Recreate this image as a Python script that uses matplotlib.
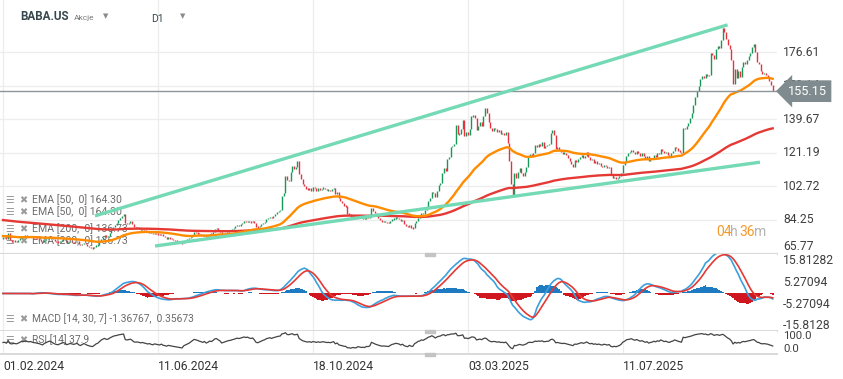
import numpy as np
import pandas as pd
import matplotlib
matplotlib.use('Agg')
import matplotlib.pyplot as plt
from matplotlib.patches import Rectangle
from matplotlib.transforms import blended_transform_factory as blend

plt.rcParams['font.family'] = ['Roboto', 'DejaVu Sans']

# BABA.US daily closes (Feb 2024 - Nov 2025)
c_2024_02 = [74.2, 74.5, 73.4, 76.9, 72.9, 72.0, 72.7, 72.5, 72.2, 73.1, 74.3, 75.2, 75.0, 75.7, 75.4, 74.8, 75.3, 74.6, 74.1, 74.0]
c_2024_03 = [73.5, 73.2, 72.5, 71.9, 73.0, 73.7, 74.4, 75.1, 74.6, 73.6, 72.7, 72.1, 71.8, 72.4, 72.9, 73.4, 73.0, 71.5, 71.9, 72.4]
c_2024_04 = [72.0, 71.6, 71.9, 72.3, 71.0, 70.3, 70.9, 71.6, 70.8, 69.9, 69.4, 68.8, 68.5, 69.2, 70.1, 70.6, 71.9, 73.4, 74.6, 75.6, 74.9, 75.2]
c_2024_05 = [76.8, 78.4, 80.2, 81.5, 82.3, 84.0, 85.3, 86.5, 87.6, 82.4, 81.9, 82.6, 83.4, 82.1, 80.1, 79.7, 80.0, 79.4, 78.8, 79.3, 78.6, 78.1]
c_2024_06 = [77.4, 77.8, 76.9, 76.3, 77.1, 76.6, 76.2, 75.8, 76.5, 75.1, 74.7, 73.9, 74.5, 74.0, 73.6, 73.2, 72.7, 72.5, 72.0]
c_2024_07 = [71.6, 71.2, 72.4, 72.9, 73.5, 74.0, 75.0, 76.1, 77.5, 77.2, 76.8, 76.3, 75.9, 75.4, 76.1, 74.9, 75.5, 76.6, 76.2, 77.3, 79.2, 79.5]
c_2024_08 = [78.7, 77.8, 75.9, 76.5, 77.0, 77.8, 78.4, 78.6, 79.3, 79.8, 80.6, 81.4, 81.1, 81.8, 82.5, 83.4, 83.1, 83.7, 83.2, 82.9, 83.6, 82.4]
c_2024_09 = [80.5, 80.2, 80.9, 81.7, 82.5, 83.2, 84.5, 85.1, 85.9, 85.4, 86.6, 87.3, 88.3, 89.1, 89.6, 97.5, 99.2, 108.5, 106.2, 105.9]
c_2024_10 = [110.5, 113.9, 112.4, 113.6, 116.8, 109.5, 106.8, 104.2, 103.0, 101.5, 100.9, 101.8, 100.2, 102.3, 101.6, 100.4, 101.9, 100.6, 101.5, 102.0, 101.2, 100.5, 100.9]
c_2024_11 = [100.2, 101.0, 102.0, 98.3, 99.6, 96.0, 94.4, 93.6, 92.0, 91.7, 87.6, 87.2, 86.0, 86.8, 86.2, 85.5, 86.9, 86.3, 85.0, 85.2]
c_2024_12 = [84.5, 85.6, 85.3, 85.9, 90.6, 89.2, 87.8, 86.5, 85.4, 84.0, 83.2, 83.5, 83.0, 82.8, 82.4, 83.6, 84.5, 84.9, 85.6, 85.3, 84.8]
c_2025_01 = [83.4, 84.2, 82.1, 81.0, 80.2, 81.5, 80.0, 79.6, 82.4, 83.6, 85.5, 86.2, 88.0, 87.5, 89.4, 91.3, 94.6, 96.0, 99.8, 98.8]
c_2025_02 = [97.0, 100.4, 103.2, 104.5, 110.2, 112.6, 111.0, 118.0, 118.7, 124.6, 125.0, 126.2, 136.5, 131.4, 131.6, 134.2, 139.3, 130.7, 132.7]
c_2025_03 = [131.0, 134.5, 141.2, 141.8, 140.3, 133.5, 135.8, 137.9, 136.2, 141.5, 145.6, 143.0, 137.9, 134.8, 133.3, 135.0, 134.2, 132.4, 133.8, 131.6, 132.2]
c_2025_04 = [131.0, 132.8, 126.8, 116.5, 104.0, 97.5, 109.8, 107.4, 110.6, 113.0, 110.2, 108.3, 110.8, 113.5, 118.9, 120.3, 119.2, 121.0, 125.5, 124.2, 126.0]
c_2025_05 = [125.2, 127.0, 124.0, 124.8, 125.5, 126.3, 132.0, 134.0, 131.2, 123.2, 124.5, 122.8, 121.5, 120.7, 121.3, 119.8, 118.5, 116.4, 114.8, 113.6, 117.0]
c_2025_06 = [116.2, 117.5, 118.6, 120.0, 118.3, 119.5, 121.4, 118.8, 117.0, 117.9, 115.6, 116.4, 114.8, 115.6, 114.0, 113.2, 114.5, 113.8, 112.6, 113.4]
c_2025_07 = [109.0, 107.2, 108.1, 106.6, 107.5, 108.4, 110.3, 114.2, 116.0, 119.5, 120.8, 121.6, 122.9, 121.4, 120.5, 122.3, 121.0, 119.6, 120.8, 119.4, 118.0, 119.2]
c_2025_08 = [116.5, 117.8, 118.4, 120.2, 119.0, 121.3, 120.4, 123.5, 122.1, 120.8, 121.6, 120.2, 119.5, 121.1, 122.0, 124.3, 123.6, 122.4, 121.8, 120.9, 135.0]
c_2025_09 = [134.2, 136.0, 137.5, 140.3, 143.0, 147.5, 152.0, 155.1, 158.0, 162.0, 163.5, 162.4, 164.8, 163.6, 164.2, 176.4, 175.0, 172.8, 178.5, 180.1, 178.7]
c_2025_10 = [183.5, 190.0, 187.5, 184.0, 180.8, 178.2, 172.5, 159.0, 167.2, 162.5, 166.0, 163.0, 168.5, 171.2, 170.0, 172.5, 174.8, 176.3, 179.6, 181.2, 177.0, 171.5, 170.2]
c_2025_11 = [166.0, 164.5, 165.3, 164.0, 163.1, 160.5, 158.3, 155.15]

closes = np.array(c_2024_02 + c_2024_03 + c_2024_04 + c_2024_05 + c_2024_06 + c_2024_07
                  + c_2024_08 + c_2024_09 + c_2024_10 + c_2024_11 + c_2024_12 + c_2025_01
                  + c_2025_02 + c_2025_03 + c_2025_04 + c_2025_05 + c_2025_06 + c_2025_07
                  + c_2025_08 + c_2025_09 + c_2025_10 + c_2025_11)

date_ticks = [0, 90, 180, 270, 360]
date_labels = ['01.02.2024', '11.06.2024', '18.10.2024', '03.03.2025', '11.07.2025']
price_ticks = [65.77, 84.25, 102.72, 121.19, 139.67, 158.14, 176.61]
macd_ticks = [15.81282, 5.27094, -5.27094, -15.8128]
macd_labels = ['15.81282', '5.27094', '-5.27094', '-15.8128']
last_price = 155.15
ema50_start = 75.3
ema200_start = 84.2

# drawn trend lines: (bar index, price) at both ends
upper_x, upper_y = [53.4, 420.8], [86.4, 191.7]
lower_x, lower_y = [88.3, 439.6], [69.8, 116.0]

legend_rows = ['EMA [50,  0] 164.30', 'EMA [50,  0] 164.30',
               'EMA [200,  0] 136.73', 'EMA [200,  0] 136.73']
macd_text = 'MACD [14, 30, 7] -1.36767,  0.35673'
rsi_text = 'RSI [14] 37.9'


def ema(vals, span, start=None):
    a = 2.0 / (span + 1)
    out = np.empty(len(vals))
    prev = vals[0] if start is None else start
    for i, v in enumerate(vals):
        prev = prev + a * (v - prev)
        out[i] = prev
    return out


x = np.arange(len(closes))
opens = np.r_[closes[0], closes[:-1]]
ema50 = ema(closes, 50, ema50_start)
ema200 = ema(closes, 200, ema200_start)

s = pd.Series(closes)
macd = (s.rolling(14, min_periods=1).mean() - s.rolling(30, min_periods=1).mean()).to_numpy()
signal = ema(macd, 7)
hist = macd - signal

d = np.diff(closes, prepend=closes[0])
gain = np.clip(d, 0, None)
loss = np.clip(-d, 0, None)
ag = np.empty(len(d)); al = np.empty(len(d))
g, l = 0.5, 0.5
for i in range(len(d)):
    g = g + (gain[i] - g) / 14
    l = l + (loss[i] - l) / 14
    ag[i], al[i] = g, l
rsi = 100 - 100 / (1 + ag / al)

W, H = 843, 379
fig = plt.figure(figsize=(W / 100, H / 100), dpi=100)
pw = 777 / W
ax = fig.add_axes((0, 1 - 254 / H, pw, 254 / H))
axm = fig.add_axes((0, 1 - 331 / H, pw, 77 / H))
axr = fig.add_axes((0, 1 - 354 / H, pw, 23 / H))

green, red = '#17975a', '#e5323e'
grid = '#ededed'
for a in (ax, axm, axr):
    a.set_xlim(-1.74, 449.5)
    a.set_xticks([]); a.set_yticks([])
    for sp in ('top', 'left', 'right'):
        a.spines[sp].set_visible(False)
    a.spines['bottom'].set_color('#d9d9d9')
    a.spines['bottom'].set_linewidth(1.4)
    for t in date_ticks:
        a.axvline(t, color=grid, lw=0.9, zorder=0)

# main price panel
ax.set_ylim(65.4, 205.4)
for v in price_ticks:
    ax.axhline(v, color=grid, lw=0.9, zorder=0)
lo = np.minimum(opens, closes)
hi = np.maximum(opens, closes)
mid = (lo + hi) / 2
lo = np.minimum(lo, mid - 0.35)
hi = np.maximum(hi, mid + 0.35)
up = closes >= opens
ax.vlines(x[up], lo[up], hi[up], color=green, lw=1.0, zorder=2)
ax.vlines(x[~up], lo[~up], hi[~up], color=red, lw=1.0, zorder=2)
ax.plot(x, ema200, color='#e53935', lw=1.7, zorder=3)
ax.plot(x, ema50, color='#ff8c00', lw=1.7, zorder=3)
ax.plot(upper_x, upper_y, color='#74d9b5', lw=2.4, solid_capstyle='butt', zorder=4)
ax.plot(lower_x, lower_y, color='#74d9b5', lw=2.4, solid_capstyle='butt', zorder=4)
ax.axhline(last_price, color='#8d9598', lw=1.0, zorder=3)

tr = blend(ax.transAxes, ax.transData)
for v in price_ticks:
    ax.text(783 / 777, v, f'{v:.2f}', transform=tr, fontsize=8.7, color='#3f3f3f',
            va='bottom' if v == price_ticks[0] else 'center', ha='left', clip_on=False)
ax.text(788 / 777, last_price, f'{last_price:.2f}', transform=tr, fontsize=9.2,
        color='white', va='center', ha='left', clip_on=False, zorder=10,
        bbox=dict(boxstyle='larrow,pad=0.34', fc='#7f8b8e', ec='none'))

for i, row in enumerate(legend_rows):
    yy = 1 - [200, 212, 229, 241][i] / 254
    ax.text(5 / 777, yy, '\u2630', transform=ax.transAxes, fontsize=7, color='#9a9a9a', va='center', zorder=1)
    ax.text(19 / 777, yy, '\u2716', transform=ax.transAxes, fontsize=7, color='#9a9a9a', va='center', zorder=1)
    ax.text(32 / 777, yy, row, transform=ax.transAxes, fontsize=7.6, color='#6b6b6b', va='center', zorder=1)

# MACD panel
axm.set_ylim(-18.25, 19.2)
axm.bar(x, np.where(hist > 0, hist, 0), width=1.0, color='#1f7bc1', zorder=2)
axm.bar(x, np.where(hist < 0, hist, 0), width=1.0, color='#d0161e', zorder=2)
axm.plot(x, macd, color='#3aa0de', lw=1.2, zorder=3)
axm.plot(x, signal, color='#e53935', lw=1.2, zorder=3)
trm = blend(axm.transAxes, axm.transData)
for v, lab in zip(macd_ticks, macd_labels):
    axm.text(783 / 777, v, lab, transform=trm, fontsize=8.7, color='#3f3f3f', va='center', ha='left', clip_on=False)
my = 1 - (319 - 254) / 77
axm.text(5 / 777, my, '\u2630', transform=axm.transAxes, fontsize=7, color='#9a9a9a', va='center')
axm.text(19 / 777, my, '\u2716', transform=axm.transAxes, fontsize=7, color='#9a9a9a', va='center')
axm.text(32 / 777, my, macd_text, transform=axm.transAxes, fontsize=7.4, color='#6b6b6b', va='center')

# RSI panel
axr.set_ylim(0, 100)
axr.plot(x, rsi, color='#444444', lw=0.9, zorder=3)
trr = blend(axr.transAxes, axr.transData)
axr.text(783 / 777, 100, '100.0', transform=trr, fontsize=8.2, color='#3f3f3f', va='top', ha='left', clip_on=False)
axr.text(783 / 777, 0, '0.0', transform=trr, fontsize=8.2, color='#3f3f3f', va='bottom', ha='left', clip_on=False)
ry = 1 - (340 - 331) / 23
axr.text(5 / 777, ry, '\u2630', transform=axr.transAxes, fontsize=7, color='#9a9a9a', va='center', zorder=1)
axr.text(19 / 777, ry, '\u2716', transform=axr.transAxes, fontsize=7, color='#9a9a9a', va='center', zorder=1)
axr.text(32 / 777, ry, rsi_text, transform=axr.transAxes, fontsize=7.4, color='#6b6b6b', va='center', zorder=1)

trx = blend(axr.transData, fig.transFigure)
for t, lab in zip(date_ticks, date_labels):
    axr.text(t, 1 - 366 / H, lab, transform=trx, fontsize=8.7, color='#333333', ha='left', va='center', clip_on=False)

# header
fy = 1 - 17 / H
fig.text(20 / W, fy, 'BABA.US', fontsize=8.4, weight='bold', color='#37474f', va='center')
fig.text(74 / W, fy - 0.003, 'Akcje', fontsize=6.0, color='#7a7a7a', va='center')
fig.text(103 / W, fy, '\u25bc', fontsize=5, color='#8a8a8a', va='center')
fig.text(151 / W, fy - 0.004, 'D1', fontsize=7.5, color='#37474f', va='center')
fig.text(180 / W, fy, '\u25bc', fontsize=5, color='#8a8a8a', va='center')

# countdown
cy = 1 - 232 / H
for xp, txt, col in [(716, '04', '#f39a2b'), (730, 'h', '#b3b3b3'), (739, '36', '#f39a2b'), (754, 'm', '#b3b3b3')]:
    fig.text(xp / W, cy, txt, fontsize=10, color=col, va='center')

# panel drag handles
for yp in (254, 331, 354):
    fig.add_artist(Rectangle((425 / W, 1 - (yp + 1.5) / H), 10 / W, 3 / H,
                             transform=fig.transFigure, color='#c4c4c4', zorder=20))

fig.savefig('out.png', dpi=100, facecolor='white')
